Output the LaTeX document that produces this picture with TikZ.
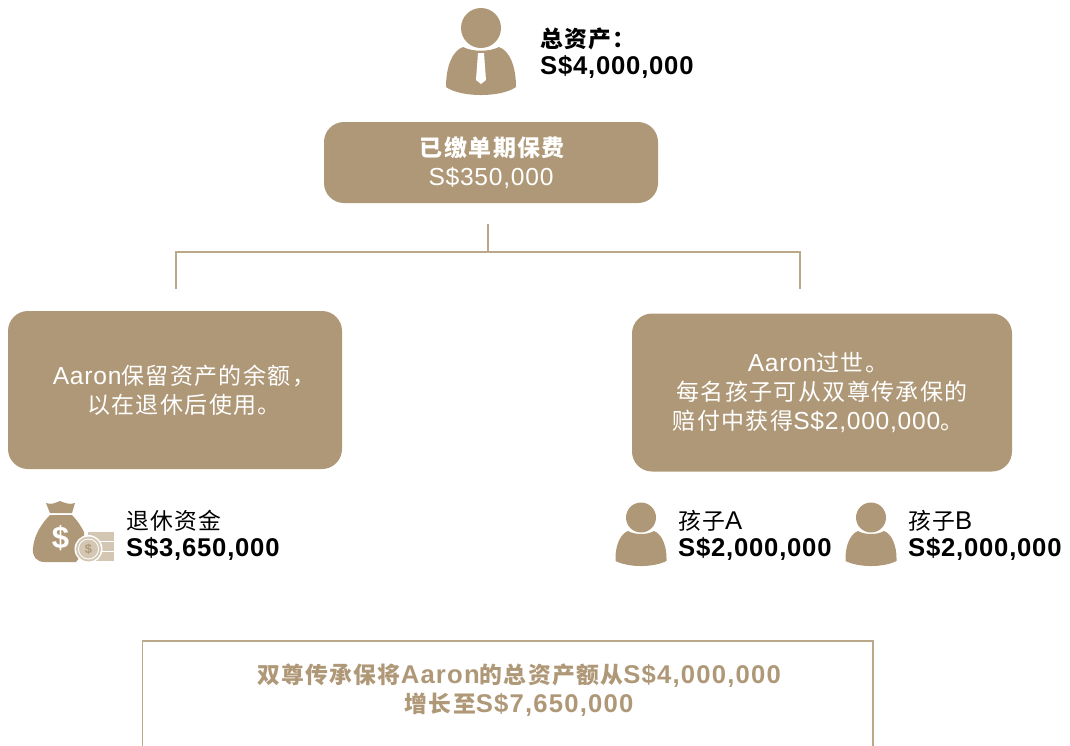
\documentclass[tikz,border=0pt]{standalone}
\usepackage{fontspec}
\setmainfont{Liberation Sans}[LetterSpace=3,Scale=1.07]
\newfontfamily\sumlat{Liberation Sans}[LetterSpace=4.6,Scale=1.07]
\newfontfamily\cjk{Noto Sans CJK SC}[LetterSpace=6]
\newfontfamily\cjksmall{Noto Sans CJK SC}[LetterSpace=6,Scale=0.95]
\newcommand{\zh}[1]{{\cjk #1}}
\newcommand{\zl}[1]{{\cjksmall #1}}
\definecolor{gold}{HTML}{AF9877}
\definecolor{linegold}{HTML}{BBA88B}
\definecolor{cream}{HTML}{D3C7B3}
\tikzset{
 goldbox/.style={fill=gold,rounded corners=20,inner sep=0pt,text=white,align=center,font=\fontsize{23}{29}\selectfont},
 lbl/.style={anchor=west,inner sep=0pt,align=left,text=black,font=\fontsize{24}{27.5}\selectfont},
 conn/.style={draw=linegold,line width=1.2pt},
 person/.pic={
  \fill[gold] (0,-17) circle (20);
  \fill[gold] (-18,2) .. controls (-8,7) and (8,7) .. (18,2) .. controls (29,6) and (35,22) .. (35,42)
   .. controls (20,52.7) and (-20,52.7) .. (-35,42) .. controls (-35,22) and (-29,6) .. (-18,2) -- cycle;
 },
 child/.pic={
  \fill[gold] (0,-16.5) circle (15);
  \fill[gold] (-13,-3) .. controls (-6,1) and (6,1) .. (13,-3) .. controls (21,0) and (25.5,12) .. (25.5,24)
   -- (25.5,27) .. controls (12,33.7) and (-12,33.7) .. (-25.5,27) -- (-25.5,24) .. controls (-25.5,12) and (-21,0) .. (-13,-3) -- cycle;
 }
}
\begin{document}
\begin{tikzpicture}[x=1pt,y=-1pt]
\useasboundingbox (0,0) rectangle (1070,745);
% top person
\pic at (481,45) {person};
\fill[white] (478,53) -- (484,53) -- (486,80) -- (481,84) -- (476,80) -- cycle;
\node[lbl] (total) at (540,53) {\textbf{\zl{总资产：}}\\\textbf{S\$4,000,000}};
% boxes
\node[goldbox,minimum width=334,minimum height=81] (premium) at (491,162.5) {\hspace*{4pt}\textbf{\zh{已缴单期保费}}\\S\$350,000};
\node[goldbox,minimum width=334,minimum height=158] (left) at (175,390) {\hspace*{18pt}Aaron\zh{保留资产的余额，}\\\hspace*{18pt}\zh{以在退休后使用。}};
\node[goldbox,minimum width=380,minimum height=158] (right) at (822,392.5) {Aaron\zh{过世。}\hspace*{8pt}\\\zh{每名孩子可从双尊传承保的}\hspace*{5pt}\\\zh{赔付中获得}S\$2,000,000\zh{。}\hspace*{8pt}};
% connectors
\coordinate (top) at (488,224);
\coordinate (mid) at (488,252);
\coordinate (la) at (176,252);
\coordinate (lb) at (176,289);
\coordinate (ra) at (800,252);
\coordinate (rb) at (800,289);
\draw[conn] (top) -- (mid);
\draw[conn] (lb) -- (la) -- (ra) -- (rb);
% money bag
\fill[gold] (46,503) .. controls (51,505) and (55,503) .. (60,501) .. controls (65,503) and (70,505) .. (75,503) -- (72,513) -- (50,513) -- cycle;
\fill[gold] (50,515) -- (72,515) .. controls (77,520) and (81,526) .. (84,532) -- (84,552) -- (76,562) -- (45,562)
  .. controls (36,562) and (32,556) .. (33,548) .. controls (34,535) and (42,523) .. (50,515) -- cycle;
\foreach \yy in {532,542,552} \fill[cream] (88,\yy) rectangle (114,\yy+9);
\fill[white] (88.5,549) circle (14);
\fill[cream] (88.5,549) circle (12.5);
\fill[white] (88.5,549) circle (10.5);
\fill[cream] (88.5,549) circle (9.5);
\node[text=gold,font=\fontsize{12}{12}\selectfont\bfseries,inner sep=0pt] (coin) at (88.5,549.5) {\$};
\node[text=white,font=\fontsize{29}{29}\selectfont\bfseries,inner sep=0pt] (bagsign) at (60.5,538.5) {\$};
\node[lbl] (retire) at (126,535.5) {\zl{退休资金}\\\textbf{S\$3,650,000}};
% children
\pic at (641,534) {child};
\node[lbl] (childa) at (678,535.5) {\zl{孩子}A\\\textbf{S\$2,000,000}};
\pic at (871,534) {child};
\node[lbl] (childb) at (908,535.5) {\zl{孩子}B\\\textbf{S\$2,000,000}};
% bottom
\draw[conn] (142.5,746) -- (142.5,641) -- (873,641) -- (873,746);
\node[text=gold,align=center,inner sep=0pt,font=\fontsize{24}{29}\selectfont\bfseries] (sum) at (519,690.5) {\zl{双尊传承保将}{\sumlat Aaron}\zl{的总资产额从}{\sumlat S\$4,000,000}\\\zl{增长至}{\sumlat S\$7,650,000}};
\end{tikzpicture}
\end{document}
